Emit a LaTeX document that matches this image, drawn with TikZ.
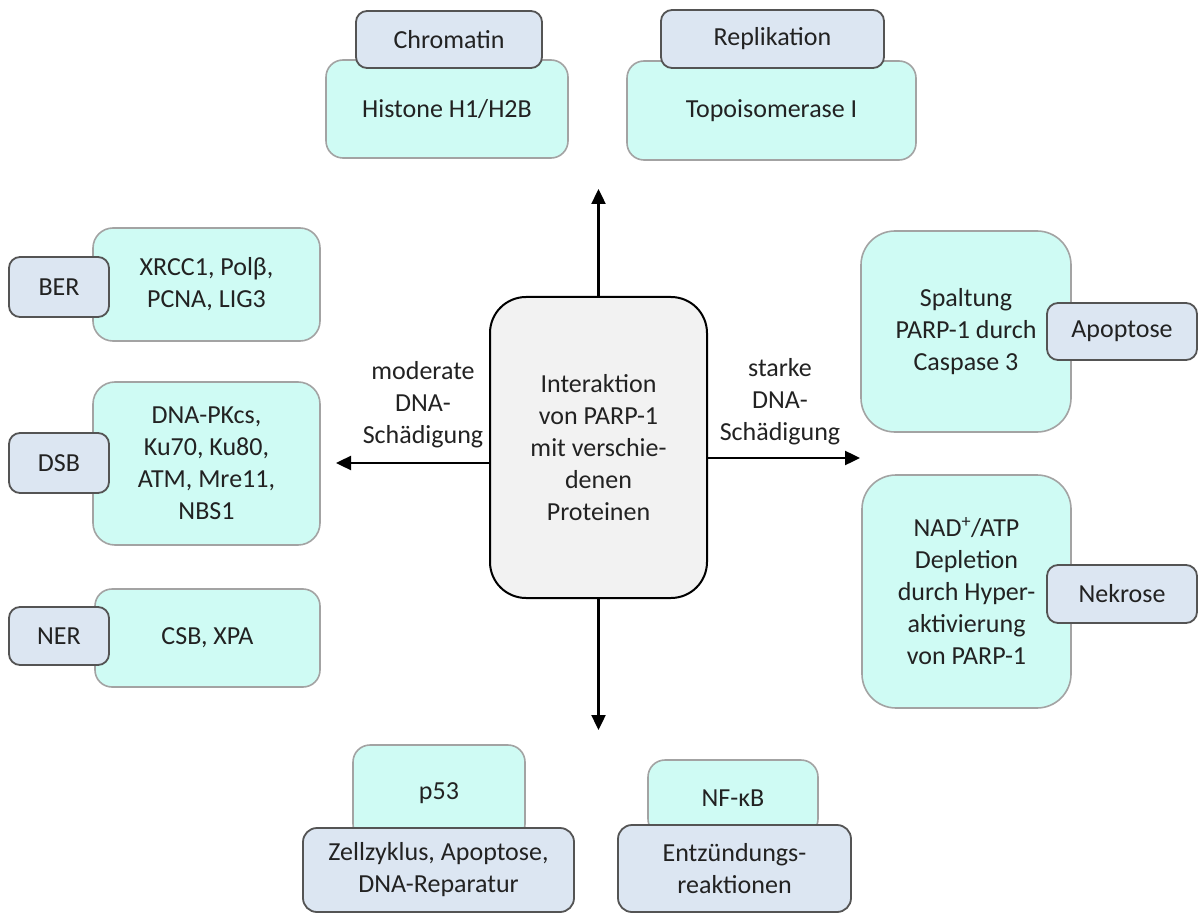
\documentclass[tikz,border=0pt]{standalone}
\usepackage{fontspec}
\setmainfont{Carlito}
\usetikzlibrary{arrows.meta}
\definecolor{tealfill}{HTML}{CFFBF4}
\definecolor{tealdraw}{HTML}{A3A3A3}
\definecolor{tagfill}{HTML}{DCE6F2}
\definecolor{tagdraw}{HTML}{545454}
\definecolor{centerfill}{HTML}{F2F2F2}
\definecolor{txt}{HTML}{222222}
\tikzset{
  base/.style={inner sep=0pt, align=center, text=txt, font=\fontsize{26}{32}\selectfont},
  tealbox/.style={base, fill=tealfill, draw=tealdraw, line width=1.6pt, rounded corners=17pt},
  bigteal/.style={tealbox, rounded corners=34pt},
  tagbox/.style={base, fill=tagfill, draw=tagdraw, line width=1.8pt, rounded corners=11pt},
  centerbox/.style={base, fill=centerfill, draw=black, line width=2pt, rounded corners=36pt},
  lbl/.style={base},
  arr/.style={line width=2.4pt, -{Triangle[length=15pt,width=14pt]}},
}
\begin{document}
\begin{tikzpicture}[x=1pt,y=-1pt]
\useasboundingbox (0,0) rectangle (1199,917);

% top
\node[tealbox, minimum width=242, minimum height=98] (histone) at (447,109) {\raisebox{-4pt}{Histone H1/H2B}};
\node[tagbox, minimum width=186, minimum height=57] (chromatin) at (449,39.5) {Chromatin};
\node[tealbox, minimum width=289, minimum height=99] (topo) at (771.5,110.5) {\raisebox{-4pt}{Topoisomerase I}};
\node[tagbox, minimum width=223, minimum height=58] (repl) at (772.5,39) {\raisebox{-2pt}{Replikation}};

% left
\node[tealbox, minimum width=227, minimum height=113, rounded corners=20pt] (ber) at (206.5,284.5) {XRCC1, Polβ,\\PCNA, LIG3};
\node[tagbox, minimum width=100, minimum height=60] (bertag) at (59,287) {BER};
\node[tealbox, minimum width=227, minimum height=163, rounded corners=22pt] (dsb) at (206.5,463.5) {DNA-PKcs,\\Ku70, Ku80,\\ATM, Mre11,\\NBS1};
\node[tagbox, minimum width=100, minimum height=60] (dsbtag) at (59,463) {DSB};
\node[tealbox, minimum width=225, minimum height=98] (ner) at (207.5,638) {CSB, XPA};
\node[tagbox, minimum width=100, minimum height=58] (nertag) at (59,636) {NER};

% right
\node[bigteal, minimum width=210, minimum height=201] (spalt) at (966,331.5) {Spaltung\\PARP-1 durch\\Caspase 3};
\node[tagbox, minimum width=150, minimum height=57] (apop) at (1122,331.5) {Apoptose};
\node[bigteal, minimum width=209, minimum height=233] (nad) at (966.5,591.5) {NAD\textsuperscript{+}/ATP\\Depletion\\durch Hyper-\\aktivierung\\von PARP-1};
\node[tagbox, minimum width=150, minimum height=58] (nekr) at (1122,594) {Nekrose};

% bottom
\node[tealbox, minimum width=172, minimum height=96] (p53) at (439,793) {\raisebox{-6pt}{p53}};
\node[tagbox, minimum width=271, minimum height=84, rounded corners=14pt] (zell) at (438.5,870) {Zellzyklus, Apoptose,\\DNA-Reparatur};
\node[tealbox, minimum width=170, minimum height=76] (nfkb) at (733,798) {\raisebox{-1pt}{NF-κB}};
\node[tagbox, minimum width=233, minimum height=87, rounded corners=14pt] (entz) at (734.5,868.5) {Entzündungs-\\reaktionen};

% center
\node[centerbox, minimum width=217, minimum height=301] (c) at (598.5,447.5) {Interaktion\\von PARP-1\\mit verschie-\\denen\\Proteinen};

\node[lbl] (mod) at (423,405) {moderate\\DNA-\\Schädigung};
\node[lbl] (stark) at (780,402) {starke\\DNA-\\Schädigung};

\coordinate (upEnd) at (598.5,189);
\coordinate (downEnd) at (598.5,730);
\coordinate (lEnd) at (336,463);
\coordinate (rEnd) at (860,458);
\draw[arr] (c.north) -- (upEnd);
\draw[arr] (c.south) -- (downEnd);
\draw[arr] (c.west |- lEnd) -- (lEnd);
\draw[arr] (c.east |- rEnd) -- (rEnd);
\end{tikzpicture}
\end{document}
